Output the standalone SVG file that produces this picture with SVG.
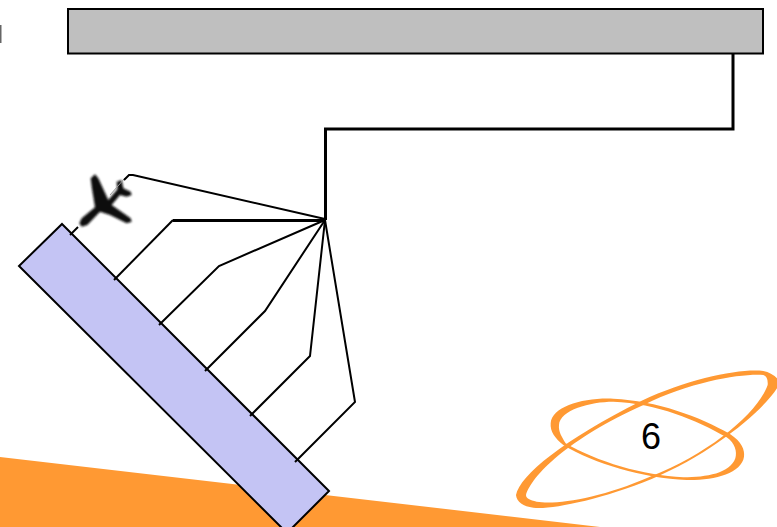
<svg xmlns="http://www.w3.org/2000/svg" width="777" height="527" viewBox="0 0 777 527">
  <defs>
    <style>
      .wire { fill: none; stroke: #000; stroke-width: 2; stroke-linejoin: miter; }
      .heavy { stroke-width: 3; }
      .swoosh { fill: #ff9933; fill-rule: evenodd; }
    </style>
    <filter id="soft" x="-20%" y="-20%" width="140%" height="140%">
      <feGaussianBlur stdDeviation="0.8"/>
    </filter>
  </defs>
  <rect width="777" height="527" fill="#fff"/>
  <g id="ground">
    <polygon points="0,457 600,527 0,527" fill="#ff9933"/>
  </g>
  <g id="edge-mark">
    <rect x="0" y="25" width="1.500" height="18" fill="#666"/>
  </g>
  <g id="logo">
    <g transform="translate(500 360) scale(0.33333)">
      <path class="swoosh" d="M48,405 C60,345 190,240 425,122 C570,55 720,25 790,33 Q815,38 831,55 L831,85 C790,150 640,280 455,357 C300,420 150,450 100,443 C70,440 50,425 48,405 Z M78,405 C95,348 200,238 432,134 C580,62 730,40 790,45 Q805,50 803,75 C775,155 635,278 450,350 C300,415 170,435 110,425 C90,420 78,415 78,405 Z"/>
      <path class="swoosh" d="M152,190 C155,140 250,112 340,116 C470,122 600,170 690,222 C725,245 735,270 732,290 C725,340 640,362 560,360 C430,355 280,310 190,255 C165,235 150,215 152,190 Z M177,195 C180,150 270,125 340,125 C470,130 590,180 680,232 C705,250 712,275 706,295 C690,340 620,352 550,352 C430,347 290,305 197,250 C185,230 175,215 177,195 Z"/>
    </g>
    <text x="651" y="449" font-family="'Liberation Sans', Arial, sans-serif" font-size="36" text-anchor="middle" fill="#000">6</text>
  </g>
  <g id="bar">
    <rect x="68" y="9" width="695" height="44.500" fill="#bfbfbf" stroke="#000" stroke-width="2"/>
  </g>
  <g id="plate">
    <polygon points="62,224 329,491 287,533 19,266" fill="#c4c4f4" stroke="#000" stroke-width="2"/>
  </g>
  <g id="aircraft" filter="url(#soft)">
    <path transform="translate(0 150) scale(0.33333)" fill="#111" d="M272,85 L285,73 L295,85 L325,150 L352,118 L350,95 L365,90 L370,115 L392,125 L395,135 L380,140 L360,135 L335,165 L392,205 L395,215 L380,220 L330,195 L300,185 L262,225 L245,230 L238,220 L245,205 L285,172 L275,110 Z"/>
  </g>
  <g id="connectors">
    <path class="wire heavy" d="M733,54 V129 H325.500 V220"/>
    <path class="wire" d="M70,235 L78,227"/>
    <path d="M110,195 L125,178" fill="none" stroke="#999" stroke-width="1"/>
    <path class="wire" d="M325,219 L133,175 H129 L124,180"/>
    <path class="wire heavy" d="M325,220.500 H173"/>
    <path class="wire" d="M173,220 L114,280"/>
    <path class="wire" d="M325,220 L219,266 L159,325"/>
    <path class="wire" d="M325,220 L265,311 L205,371"/>
    <path class="wire" d="M325,220 L310,356 L250,416"/>
    <path class="wire" d="M325,220 L355,402 L295,462"/>
  </g>
</svg>
